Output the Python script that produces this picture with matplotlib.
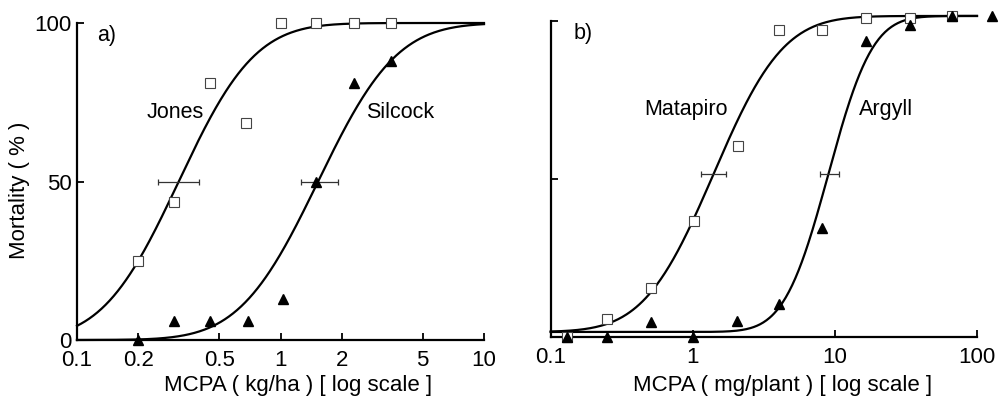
import math
import numpy as np
import matplotlib
matplotlib.use("Agg")
import matplotlib.pyplot as plt
from matplotlib.ticker import FixedLocator, NullLocator, FixedFormatter

plt.rcParams['font.family'] = ['Liberation Sans', 'DejaVu Sans']

# ---------------- data: panel a ----------------
jones_x = [0.20, 0.30, 0.45, 0.675, 1.0, 1.5, 2.3, 3.5]
jones_y = [25, 43.5, 81, 68.5, 100, 100, 100, 100]
silcock_x = [0.20, 0.30, 0.45, 0.69, 1.03, 1.5, 2.3, 3.5]
silcock_y = [0, 6, 6, 6, 13, 50, 81, 88]
# ED50 with confidence interval (x), drawn at y
jones_ed50 = [0.315, 0.249, 0.396, 50]
silcock_ed50 = [1.55, 1.26, 1.92, 50]
# fitted probit parameters: ED50, slope (per log10 unit), lower, upper
jones_fit = [0.316, 3.4, 0, 100]
silcock_fit = [1.53, 3.3, 0, 100]
a_ticks = [0.1, 0.2, 0.5, 1, 2, 5, 10]
a_ticklabels = ['0.1', '0.2', '0.5', '1', '2', '5', '10']
a_yticks = [0, 50, 100]
a_yticklabels = ['0', '50', '100']

# ---------------- data: panel b ----------------
matapiro_x = [0.13, 0.25, 0.51, 1.02, 2.07, 4.07, 8.1, 16.6, 33.5, 66.7]
matapiro_y = [0, 5.5, 15.5, 36.5, 60.5, 97, 97, 100.8, 101, 101.5]
argyll_x = [0.13, 0.25, 0.51, 1.0, 2.04, 4.07, 8.1, 16.5, 33.5, 66.7, 127]
argyll_y = [0, 0, 4.7, 0, 5, 10.5, 34.5, 93.5, 98.6, 101.5, 101.5]
matapiro_ed50 = [1.40, 1.14, 1.72, 51.4]
argyll_ed50 = [9.17, 7.88, 10.77, 51.6]
matapiro_fit = [1.40, 2.6, 1.5, 101.5]
argyll_fit = [9.0, 4.1, 1.5, 101.5]
b_ticks = [0.1, 1, 10, 100]
b_ticklabels = ['0.1', '1', '10', '100']
b_yticks = [50, 100]


def probit_curve(x, fit):
    ed50, slope, lo, hi = fit
    z = slope * (np.log10(x) - np.log10(ed50))
    cdf = np.array([0.5 * (1 + math.erf(v / math.sqrt(2))) for v in z])
    return lo + (hi - lo) * cdf


W, H = 1001, 396
fig = plt.figure(figsize=(W / 100, H / 100), dpi=100)


def rect(x0, x1, ytop, ybot):
    return [x0 / W, 1 - ybot / H, (x1 - x0) / W, (ybot - ytop) / H]


FS_TICK = 16
FS_LAB = 16
FS_TXT = 15.5
lw_curve = 1.6

# ---------- panel a ----------
ax = fig.add_axes(rect(77, 484, 23, 340))
ax.set_xscale('log')
ax.set_xlim(0.1, 10)
ax.set_ylim(0, 100)
xs = np.logspace(-1, 1, 400)
ax.plot(xs, probit_curve(xs, jones_fit), color='black', lw=lw_curve, clip_on=False)
ax.plot(xs, probit_curve(xs, silcock_fit), color='black', lw=lw_curve, clip_on=False)
for ed in (jones_ed50, silcock_ed50):
    ax.errorbar([ed[0]], [ed[3]], xerr=[[ed[0] - ed[1]], [ed[2] - ed[0]]],
                fmt='none', ecolor='#333333', elinewidth=0.9, capsize=2.5, capthick=0.9)
ax.plot(jones_x, jones_y, linestyle='none', marker='s', ms=7.5, mfc='white',
        mec='#444444', mew=0.8, clip_on=False, zorder=4)
ax.plot(silcock_x, silcock_y, linestyle='none', marker='^', ms=7.5, mfc='black',
        mec='black', clip_on=False, zorder=4)
ax.text(0.221, 71.7, 'Jones', fontsize=FS_TXT, ha='left', va='center')
ax.text(2.64, 71.7, 'Silcock', fontsize=FS_TXT, ha='left', va='center')
ax.text(0.125, 96, 'a)', fontsize=FS_TXT, ha='left', va='center')

ax.xaxis.set_major_locator(FixedLocator(a_ticks))
ax.xaxis.set_major_formatter(FixedFormatter(a_ticklabels))
ax.xaxis.set_minor_locator(NullLocator())
ax.set_yticks(a_yticks)
ax.set_yticklabels(a_yticklabels)

# ---------- panel b ----------
bx = fig.add_axes(rect(550.7, 977, 20.7, 336.7))
bx.set_xscale('log')
bx.set_xlim(0.1, 100)
bx.set_ylim(0, 100)
xs2 = np.logspace(-1, 2, 400)
bx.plot(xs2, probit_curve(xs2, matapiro_fit), color='black', lw=lw_curve, clip_on=False)
bx.plot(xs2, probit_curve(xs2, argyll_fit), color='black', lw=lw_curve, clip_on=False)
for ed in (matapiro_ed50, argyll_ed50):
    bx.errorbar([ed[0]], [ed[3]], xerr=[[ed[0] - ed[1]], [ed[2] - ed[0]]],
                fmt='none', ecolor='#333333', elinewidth=0.9, capsize=2.5, capthick=0.9)
bx.plot(matapiro_x, matapiro_y, linestyle='none', marker='s', ms=7.5, mfc='white',
        mec='#444444', mew=0.8, clip_on=False, zorder=4)
bx.plot(argyll_x, argyll_y, linestyle='none', marker='^', ms=7.5, mfc='black',
        mec='black', clip_on=False, zorder=4)
bx.text(0.454, 72, 'Matapiro', fontsize=FS_TXT, ha='left', va='center')
bx.text(14.8, 72, 'Argyll', fontsize=FS_TXT, ha='left', va='center')
bx.text(0.144, 96.1, 'b)', fontsize=FS_TXT, ha='left', va='center')

bx.xaxis.set_major_locator(FixedLocator(b_ticks))
bx.xaxis.set_major_formatter(FixedFormatter(b_ticklabels))
bx.xaxis.set_minor_locator(NullLocator())
bx.set_yticks(b_yticks)
bx.set_yticklabels([])

for a in (ax, bx):
    for s in ('top', 'right'):
        a.spines[s].set_visible(False)
    for s in ('left', 'bottom'):
        a.spines[s].set_linewidth(1.6)
    a.tick_params(direction='in', length=5, width=1.3, labelsize=FS_TICK)
    a.tick_params(axis='x', pad=7.5)
    a.tick_params(axis='y', pad=4)
    a.patch.set_visible(False)

# lift the "0" label slightly, as in the reference
for lbl in ax.get_yticklabels():
    lbl.set_verticalalignment('center_baseline')

fig.text(20 / W, 1 - 190 / H, 'Mortality ( % )', rotation=90, fontsize=FS_LAB,
         ha='center', va='center')
fig.text(298 / W, 1 - 386 / H, 'MCPA ( kg/ha ) [ log scale ]', fontsize=FS_LAB,
         ha='center', va='center')
fig.text(783 / W, 1 - 386 / H, 'MCPA ( mg/plant ) [ log scale ]', fontsize=FS_LAB,
         ha='center', va='center')

fig.savefig('out.png', dpi=100)
